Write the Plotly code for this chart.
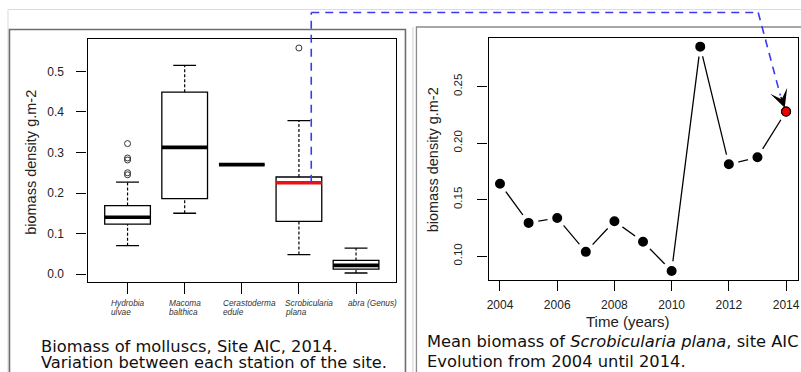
import plotly.graph_objects as go

W, H = 801, 372

# ---------------- data: left chart (box plot, site AIC 2014) ----------------
species_line1 = ["Hydrobia", "Macoma", "Cerastoderma", "Scrobicularia", "abra (Genus)"]
species_line2 = ["ulvae", "balthica", "edule", "plana", ""]
q1 = [0.123, 0.186, 0.270, 0.130, 0.0123]
median = [0.140, 0.3126, 0.270, 0.2254, 0.0213]
q3 = [0.169, 0.449, 0.270, 0.2395, 0.0336]
lower_whisker = [0.070, 0.150, 0.270, 0.048, 0.0025]
upper_whisker = [0.227, 0.515, 0.270, 0.3785, 0.064]
outlier_species = [1, 1, 1, 1, 1, 4]
outlier_values = [0.322, 0.2865, 0.2815, 0.250, 0.245, 0.558]
highlight_species = 4  # Scrobicularia plana

# ---------------- data: right chart (mean biomass per year) ----------------
years = [2004, 2005, 2006, 2007, 2008, 2009, 2010, 2011, 2012, 2013, 2014]
mean_biomass = [0.1641, 0.1294, 0.1338, 0.1038, 0.1309, 0.1127, 0.0868,
                0.2853, 0.1812, 0.1874, 0.2279]

left_yticks = [0.0, 0.1, 0.2, 0.3, 0.4, 0.5]
right_yticks = [0.10, 0.15, 0.20, 0.25]
right_xticks = [2004, 2006, 2008, 2010, 2012, 2014]


def px(x):
    return x / W


def py(y):
    return 1 - y / H


positions = list(range(1, len(species_line1) + 1))
AX_FONT = "Liberation Sans, Arial, Helvetica, sans-serif"
CAP_FONT = "DejaVu Sans, Verdana, sans-serif"

# axis geometry
x1_dom = [px(86), px(396)]
y1_dom = [py(282), py(39)]
x1_rng = [0.3, 5.7]
y1_rng = [-0.0197, 0.5802]
x2_dom = [px(489), px(799.5)]
y2_dom = [py(280), py(37.7)]
x2_rng = [2003.6, 2014.4]
y2_rng = [0.0789, 0.2932]


def to_paper(v, dom, rng):
    return dom[0] + (v - rng[0]) / (rng[1] - rng[0]) * (dom[1] - dom[0])


fig = go.Figure()

# boxes
fig.add_trace(go.Box(
    x=positions, q1=q1, median=median, q3=q3,
    lowerfence=q1, upperfence=q3, width=0.8,
    fillcolor="white", line=dict(color="black", width=1.3),
    whiskerwidth=0, boxpoints=False, showlegend=False, hoverinfo="skip",
    xaxis="x", yaxis="y"))

# dashed whiskers and caps
wx, wy, cx, cy = [], [], [], []
for p, lo, a, b, hi in zip(positions, lower_whisker, q1, q3, upper_whisker):
    if lo < a:
        wx += [p, p, None]
        wy += [lo, a, None]
        cx += [p - 0.2, p + 0.2, None]
        cy += [lo, lo, None]
    if hi > b:
        wx += [p, p, None]
        wy += [b, hi, None]
        cx += [p - 0.2, p + 0.2, None]
        cy += [hi, hi, None]
fig.add_trace(go.Scatter(x=wx, y=wy, mode="lines",
                         line=dict(color="black", width=1.2, dash="3px,2px"),
                         showlegend=False, hoverinfo="skip", xaxis="x", yaxis="y"))
fig.add_trace(go.Scatter(x=cx, y=cy, mode="lines",
                         line=dict(color="black", width=1.3),
                         showlegend=False, hoverinfo="skip", xaxis="x", yaxis="y"))

# thick medians
mx, my, rx, ry = [], [], [], []
for p, m in zip(positions, median):
    if p == highlight_species:
        rx += [p - 0.4, p + 0.4, None]
        ry += [m, m, None]
    else:
        mx += [p - 0.4, p + 0.4, None]
        my += [m, m, None]
fig.add_trace(go.Scatter(x=mx, y=my, mode="lines", line=dict(color="black", width=3.6),
                         showlegend=False, hoverinfo="skip", xaxis="x", yaxis="y"))
fig.add_trace(go.Scatter(x=rx, y=ry, mode="lines", line=dict(color="#ee1111", width=3.6),
                         showlegend=False, hoverinfo="skip", xaxis="x", yaxis="y"))

# outliers
fig.add_trace(go.Scatter(x=outlier_species, y=outlier_values, mode="markers",
                         marker=dict(symbol="circle-open", size=6, color="#333",
                                     line=dict(width=1)),
                         showlegend=False, hoverinfo="skip", xaxis="x", yaxis="y"))

# right chart: line with gaps around points
fig.add_trace(go.Scatter(x=years, y=mean_biomass, mode="lines+markers",
                         line=dict(color="black", width=1.3),
                         marker=dict(size=15, color="black", line=dict(color="white", width=5)),
                         showlegend=False, hoverinfo="skip", xaxis="x2", yaxis="y2"))
fig.add_trace(go.Scatter(x=[years[-1]], y=[mean_biomass[-1]], mode="markers",
                         marker=dict(size=9, color="#ee0000", line=dict(color="black", width=1.2)),
                         showlegend=False, hoverinfo="skip", xaxis="x2", yaxis="y2"))

axis_common = dict(showgrid=False, zeroline=False, showline=True, mirror=True,
                   linecolor="black", linewidth=1.3, ticks="outside", tickcolor="black",
                   tickwidth=1.2, ticklen=10, ticklabeloverflow="allow",
                   tickfont=dict(family=AX_FONT, size=12, color="#222"))

fig.update_layout(
    width=W, height=H, margin=dict(l=0, r=0, t=0, b=0),
    paper_bgcolor="white", plot_bgcolor="white",
    xaxis=dict(domain=x1_dom, range=x1_rng, tickvals=positions,
               ticktext=[""] * len(positions), anchor="y", ticklen=11,
               **{k: v for k, v in axis_common.items() if k != "ticklen"}),
    yaxis=dict(domain=y1_dom, range=y1_rng, tickvals=left_yticks, tickformat=".1f",
               anchor="x", ticklabelstandoff=10, **axis_common),
    xaxis2=dict(domain=x2_dom, range=x2_rng, tickvals=right_xticks, anchor="y2",
                ticklabelstandoff=3, **axis_common),
    yaxis2=dict(domain=y2_dom, range=y2_rng, tickvals=right_yticks, tickformat=".2f",
                anchor="x2", tickangle=-90, ticklabelstandoff=11,
                **{k: v for k, v in axis_common.items() if k != "tickfont"},
                tickfont=dict(family=AX_FONT, size=11.5, color="#222")),
)

annotations = []
# species labels (italic, left-aligned two-line blocks)
label_shift = [-19, -18, -21, -16, -10]
for p, l1, l2, s in zip(positions, species_line1, species_line2, label_shift):
    annotations.append(dict(x=p, y=py(303.3), xref="x", yref="paper", text=f"<i>{l1}</i>",
                            showarrow=False, xanchor="left", yanchor="middle", xshift=s,
                            font=dict(family=AX_FONT, size=8.3, color="#333")))
    if l2:
        annotations.append(dict(x=p, y=py(312.3), xref="x", yref="paper", text=f"<i>{l2}</i>",
                                showarrow=False, xanchor="left", yanchor="middle", xshift=s,
                                font=dict(family=AX_FONT, size=8.3, color="#333")))

# axis titles
annotations += [
    dict(x=px(29), y=py(162), xref="paper", yref="paper", text="biomass density g.m-2",
         textangle=-90, showarrow=False, xanchor="center", yanchor="middle",
         font=dict(family=AX_FONT, size=14.5, color="#222")),
    dict(x=px(433.5), y=py(160), xref="paper", yref="paper", text="biomass density g.m-2",
         textangle=-90, showarrow=False, xanchor="center", yanchor="middle",
         font=dict(family=AX_FONT, size=14.5, color="#222")),
    dict(x=px(629), y=py(321.7), xref="paper", yref="paper", text="Time (years)",
         showarrow=False, xanchor="center", yanchor="middle",
         font=dict(family=AX_FONT, size=15, color="#222")),
]

# captions
cap_font = dict(family=CAP_FONT, size=16.3, color="#111")
annotations += [
    dict(x=px(37), y=py(346.5), xref="paper", yref="paper", xanchor="left", yanchor="middle",
         text="Biomass of molluscs, Site AIC, 2014.", showarrow=False, font=cap_font),
    dict(x=px(37), y=py(362.5), xref="paper", yref="paper", xanchor="left", yanchor="middle",
         text="Variation between each station of the site.", showarrow=False, font=cap_font),
    dict(x=px(425), y=py(341.5), xref="paper", yref="paper", xanchor="left", yanchor="middle",
         text="Mean biomass of <i>Scrobicularia plana</i>, site AIC", showarrow=False, font=cap_font),
    dict(x=px(425), y=py(361.5), xref="paper", yref="paper", xanchor="left", yanchor="middle",
         text="Evolution from 2004 until 2014.", showarrow=False, font=cap_font),
]

# arrowhead pointing at the highlighted 2014 mean
annotations.append(dict(x=years[-1], y=mean_biomass[-1], xref="x2", yref="y2", text="",
                        showarrow=True, arrowhead=3, arrowsize=2, arrowwidth=1.5,
                        arrowcolor="black", ax=-5.7, ay=-16, standoff=4))
fig.update_layout(annotations=annotations)

# connector from the highlighted median to the 2014 point
sx = to_paper(highlight_species + 0.216, x1_dom, x1_rng)
sy = to_paper(median[highlight_species - 1], y1_dom, y1_rng)
ex = to_paper(years[-1], x2_dom, x2_rng) - 5.7 / W
ey = to_paper(mean_biomass[-1], y2_dom, y2_rng) + 16 / H
top = py(12.5)
bend = px(760)
blue = dict(color="#3a3af0", width=1.6, dash="8px,6px")

shapes = [
    # slide-like frames
    dict(type="rect", xref="paper", yref="paper", x0=px(6), y0=py(380), x1=px(806), y1=py(9.5),
         line=dict(color="#dcdcd4", width=1), layer="below"),
    dict(type="rect", xref="paper", yref="paper", x0=px(7.5), y0=py(380), x1=px(405.5), y1=py(29.5),
         line=dict(color="#6e6e6e", width=1.6), layer="below"),
    dict(type="line", xref="paper", yref="paper", x0=px(413), y0=py(380), x1=px(413), y1=py(27),
         line=dict(color="#cfcfcf", width=1), layer="below"),
    dict(type="rect", xref="paper", yref="paper", x0=px(416.5), y0=py(380), x1=px(806), y1=py(27),
         line=dict(color="#8a8a8a", width=1.3), layer="below"),
    # blue dashed connector
    dict(type="line", xref="paper", yref="paper", x0=sx, y0=sy, x1=sx, y1=top, line=blue),
    dict(type="line", xref="paper", yref="paper", x0=sx, y0=top, x1=bend, y1=top, line=blue),
    dict(type="line", xref="paper", yref="paper", x0=bend, y0=top, x1=ex, y1=ey, line=blue),
]
fig.update_layout(shapes=shapes)

fig.write_html("out.html", config={"displayModeBar": False},
               post_script="document.body.style.margin='0px';document.body.style.overflow='hidden';")
